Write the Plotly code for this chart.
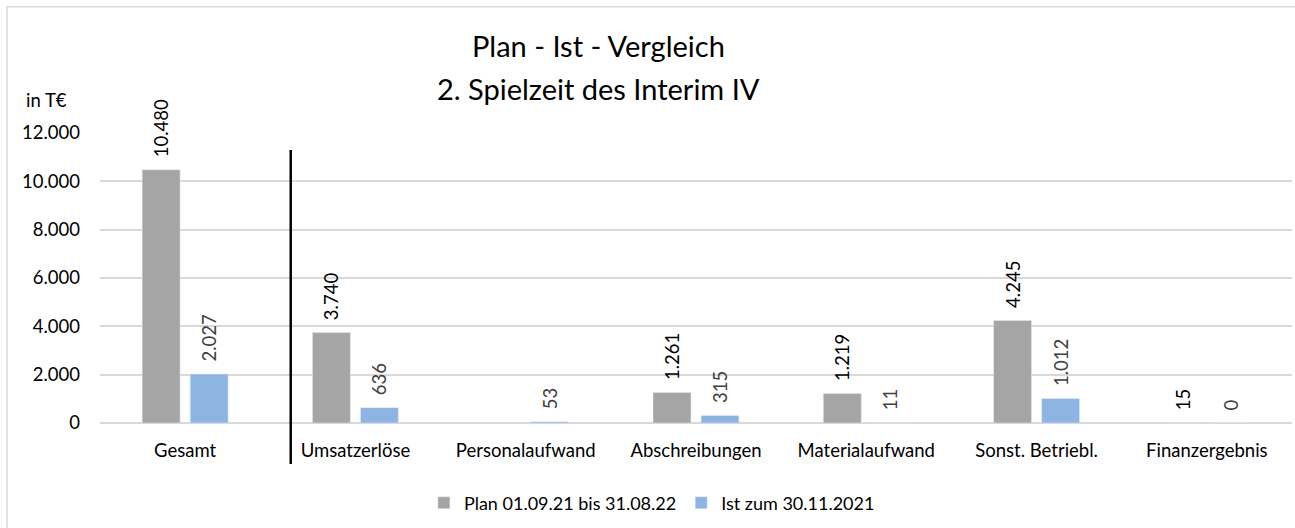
import plotly.graph_objects as go

categories = ["Gesamt", "Umsatzerlöse", "Personalaufwand", "Abschreibungen",
              "Materialaufwand", "Sonst. Betriebl.", "Finanzergebnis"]
plan_values = [10480, 3740, None, 1261, 1219, 4245, 15]
ist_values = [2027, 636, 53, 315, 11, 1012, 0]
plan_name = "Plan 01.09.21 bis 31.08.22"
ist_name = "Ist zum 30.11.2021"
y_ticks = [0, 2000, 4000, 6000, 8000, 10000, 12000]

FONT = "Lato, 'Open Sans', sans-serif"
FS = 18.5
PAD = "\u00a0\u00a0"

fig = go.Figure()
fig.add_trace(go.Bar(
    x=categories, y=plan_values, name=plan_name,
    marker=dict(color="#A5A5A5"),
    texttemplate=PAD + "%{y:,}", textposition="outside", textangle=-90,
    textfont=dict(family=FONT, size=FS, color="#000000"),
    constraintext="none", cliponaxis=False,
))
fig.add_trace(go.Bar(
    x=categories, y=ist_values, name=ist_name,
    marker=dict(color="#8EB4E3"),
    texttemplate=PAD + "%{y:,}", textposition="outside", textangle=-90,
    textfont=dict(family=FONT, size=FS, color="#404040"),
    constraintext="none", cliponaxis=False,
))

fig.update_layout(
    width=1295, height=528,
    margin=dict(l=100, r=3, t=133, b=105),
    paper_bgcolor="white", plot_bgcolor="white",
    separators=",.",
    font=dict(family=FONT, size=FS, color="#000000"),
    barmode="group", bargap=0.436, bargroupgap=0.21,
    showlegend=True,
    legend=dict(orientation="h", x=0.463, y=-0.276, xanchor="center", yanchor="middle",
                font=dict(family=FONT, size=18, color="#000000"),
                itemwidth=30, traceorder="normal"),
    uniformtext=dict(mode="show", minsize=FS),
)
fig.update_yaxes(range=[0, 12000], tickvals=y_ticks, tickformat=",",
                 showgrid=True, gridcolor="#D9D9D9", gridwidth=1.5,
                 zeroline=True, zerolinecolor="#D9D9D9", zerolinewidth=1.5,
                 ticks="", ticklabelstandoff=19, automargin=False,
                 tickfont=dict(family=FONT, size=FS, color="#000000"))
fig.update_xaxes(showline=False, ticks="", ticklabelstandoff=14, automargin=False,
                 tickfont=dict(family=FONT, size=FS, color="#000000"))

# title lines
fig.add_annotation(text="Plan - Ist - Vergleich", xref="paper", yref="paper",
                   x=0.418, y=1.303, showarrow=False, xanchor="center", yanchor="middle",
                   font=dict(family=FONT, size=29, color="#000000"))
fig.add_annotation(text="2. Spielzeit des Interim IV", xref="paper", yref="paper",
                   x=0.418, y=1.155, showarrow=False, xanchor="center", yanchor="middle",
                   font=dict(family=FONT, size=29, color="#000000"))
fig.add_annotation(text="in T€", xref="paper", yref="paper",
                   x=-0.064, y=1.114, showarrow=False, xanchor="left", yanchor="middle",
                   font=dict(family=FONT, size=FS, color="#000000"))

# vertical separator line
fig.add_shape(type="line", xref="x", yref="paper", x0=0.62, x1=0.62, y0=0.941, y1=-0.141,
              line=dict(color="#000000", width=2.5))
# outer chart border
fig.add_shape(type="rect", xref="paper", yref="paper",
              x0=-0.078, x1=1.01, y0=1.435, y1=-0.4,
              line=dict(color="#D9D9D9", width=1.5), layer="below")

fig.write_html(
    "out.html",
    config={"displayModeBar": False},
    post_script="document.body.style.margin='0';document.body.style.overflow='hidden';"
                "document.documentElement.style.overflow='hidden';",
)
